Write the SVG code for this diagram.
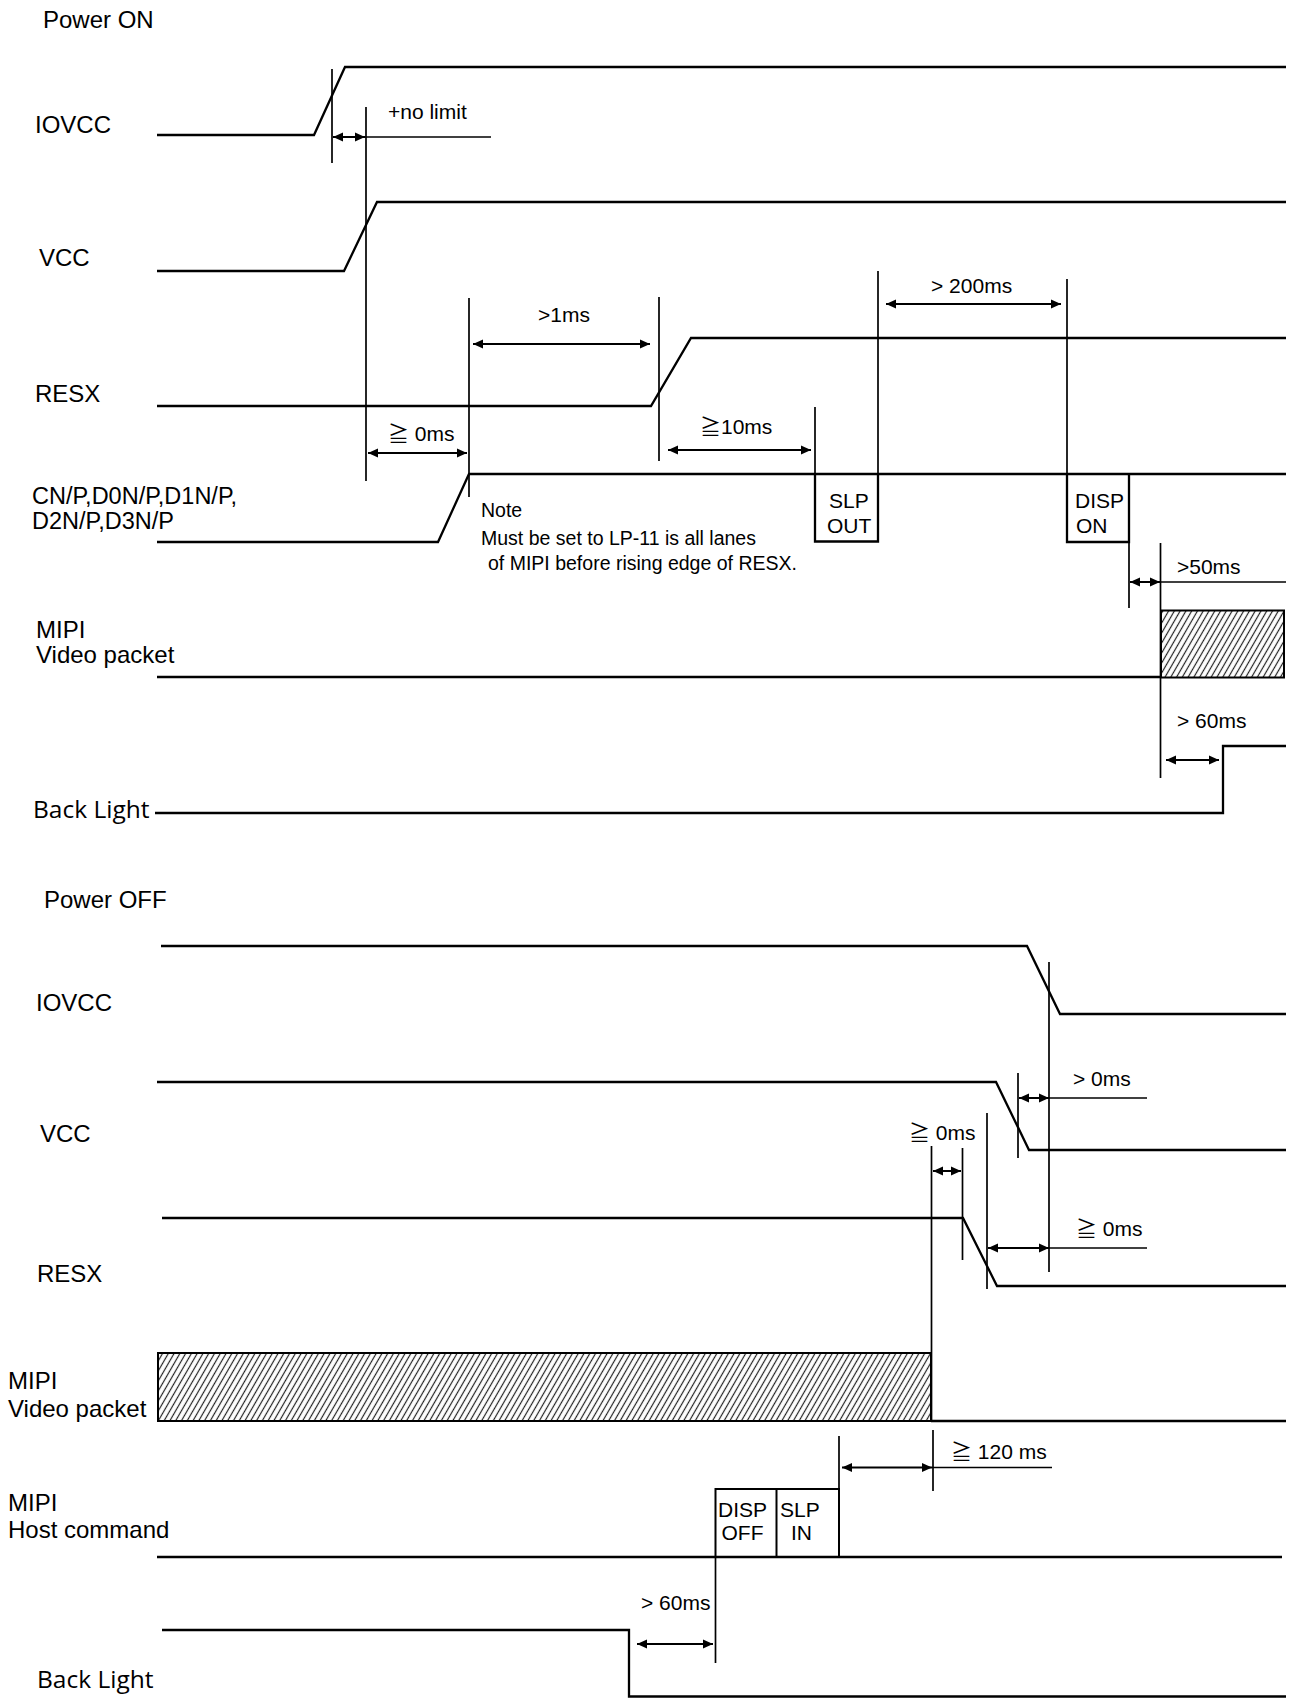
<svg xmlns="http://www.w3.org/2000/svg" width="1292" height="1698" viewBox="0 0 1292 1698">
<style>
.sig{fill:none;stroke:#000;stroke-width:2.3;stroke-linejoin:miter}
.tl{fill:none;stroke:#000;stroke-width:1.7}
.ar{fill:none;stroke:#000;stroke-width:2;marker-start:url(#ah);marker-end:url(#ah)}
.lbl{font-family:"Liberation Sans",Arial,"Noto Sans CJK JP",sans-serif;font-size:24px;fill:#000}
.ann{font-family:"Liberation Sans",Arial,"Noto Sans CJK JP",sans-serif;font-size:21px;fill:#000}
.note{font-family:"Liberation Sans",Arial,"Noto Sans CJK JP",sans-serif;font-size:19.5px;fill:#000}
.bl{font-family:"Open Sans","Noto Sans",sans-serif;font-size:24.5px;fill:#000}
.hatch{fill:url(#hp);stroke:#000;stroke-width:2}
</style>
<defs>
<marker id="ah" viewBox="0 0 10 10" refX="10" refY="5" markerWidth="10" markerHeight="10" markerUnits="userSpaceOnUse" orient="auto-start-reverse">
<path d="M0,0.5 L10,5 L0,9.5 z" fill="#000"/>
</marker>
<pattern id="hp" patternUnits="userSpaceOnUse" width="5" height="5" patternTransform="rotate(30)">
<rect width="5" height="5" fill="#fff"/>
<line x1="2.5" y1="0" x2="2.5" y2="5" stroke="#222" stroke-width="1.2"/>
</pattern>
</defs>
<rect width="1292" height="1698" fill="#fff"/>

<g id="on-title"><text class="lbl" x="43" y="28">Power ON</text></g>

<g id="on-iovcc">
<text class="lbl" x="35" y="133">IOVCC</text>
<polyline class="sig" points="157,135 314,135 345,67 1286,67"/>
</g>
<g id="on-vcc">
<text class="lbl" x="39" y="266">VCC</text>
<polyline class="sig" points="157,271 344,271 377,202 1286,202"/>
</g>
<g id="on-resx">
<text class="lbl" x="35" y="402">RESX</text>
<polyline class="sig" points="157,406 651,406 691,338 1286,338"/>
</g>
<g id="on-lanes">
<text class="lbl" style="font-size:23.5px" x="32" y="504">CN/P,D0N/P,D1N/P,</text>
<text class="lbl" style="font-size:23.5px" x="32" y="529">D2N/P,D3N/P</text>
<polyline class="sig" points="157,542 438,542 469,474 1286,474"/>
<polyline class="sig" points="815,474 815,541.5 878,541.5 878,474"/>
<polyline class="sig" points="1067,474 1067,542 1129,542 1129,474"/>
<text class="lbl" style="font-size:21px" x="829" y="508">SLP</text>
<text class="lbl" style="font-size:21px" x="827" y="533">OUT</text>
<text class="lbl" style="font-size:21px" x="1075" y="508">DISP</text>
<text class="lbl" style="font-size:21px" x="1076" y="533">ON</text>
</g>
<g id="on-note">
<text class="note" x="481" y="517">Note</text>
<text class="note" x="481" y="545">Must be set to LP-11 is all lanes</text>
<text class="note" x="488" y="570">of MIPI before rising edge of RESX.</text>
</g>
<g id="on-mipi">
<text class="lbl" x="36" y="638">MIPI</text>
<text class="lbl" x="36" y="663">Video packet</text>
<line class="sig" x1="157" y1="677" x2="1161" y2="677"/>
<rect class="hatch" x="1161" y="610.5" width="123" height="67"/>
</g>
<g id="on-backlight">
<text class="bl" x="33" y="818">Back Light</text>
<polyline class="sig" points="155,813 1223,813 1223,746 1286,746"/>
</g>

<g id="on-timing">
<line class="tl" x1="332" y1="69" x2="332" y2="163"/>
<line class="tl" x1="366" y1="107" x2="366" y2="481"/>
<line class="ar" x1="333" y1="137" x2="365" y2="137"/>
<line class="tl" x1="365" y1="137" x2="491" y2="137"/>
<text class="ann" x="388" y="119">+no limit</text>

<line class="tl" x1="469" y1="298" x2="469" y2="497"/>
<line class="tl" x1="659" y1="297" x2="659" y2="461"/>
<line class="ar" x1="473" y1="344" x2="650" y2="344"/>
<text class="ann" x="538" y="322">&gt;1ms</text>

<line class="ar" x1="368" y1="453" x2="467" y2="453"/>
<text class="ann" x="388" y="441">≧ 0ms</text>

<line class="tl" x1="815" y1="407" x2="815" y2="474"/>
<line class="ar" x1="668" y1="450" x2="811" y2="450"/>
<text class="ann" x="700" y="434">≧10ms</text>

<line class="tl" x1="878" y1="271" x2="878" y2="474"/>
<line class="tl" x1="1067" y1="279" x2="1067" y2="474"/>
<line class="ar" x1="886" y1="304" x2="1061" y2="304"/>
<text class="ann" x="931" y="293">&gt; 200ms</text>

<line class="tl" x1="1129" y1="542" x2="1129" y2="608"/>
<line class="tl" x1="1160.5" y1="543" x2="1160.5" y2="778"/>
<line class="ar" x1="1130" y1="582" x2="1160" y2="582"/>
<line class="tl" x1="1160" y1="582" x2="1286" y2="582"/>
<text class="ann" x="1177" y="574">&gt;50ms</text>

<line class="ar" x1="1166" y1="760" x2="1219" y2="760"/>
<text class="ann" x="1177" y="728">&gt; 60ms</text>
</g>

<g id="off-title"><text class="lbl" x="44" y="908">Power OFF</text></g>

<g id="off-iovcc">
<text class="lbl" x="36" y="1011">IOVCC</text>
<polyline class="sig" points="161,946 1027,946 1060,1014 1286,1014"/>
</g>
<g id="off-vcc">
<text class="lbl" x="40" y="1142">VCC</text>
<polyline class="sig" points="157,1082 996,1082 1029,1150 1286,1150"/>
</g>
<g id="off-resx">
<text class="lbl" x="37" y="1282">RESX</text>
<polyline class="sig" points="162,1218 963,1218 997,1286 1286,1286"/>
</g>
<g id="off-mipi-video">
<text class="lbl" x="8" y="1389">MIPI</text>
<text class="lbl" x="8" y="1417">Video packet</text>
<rect class="hatch" x="158" y="1353" width="773" height="68"/>
<line class="sig" x1="931" y1="1421" x2="1286" y2="1421"/>
</g>
<g id="off-mipi-host">
<text class="lbl" x="8" y="1511">MIPI</text>
<text class="lbl" x="8" y="1538">Host command</text>
<line class="sig" x1="157" y1="1557" x2="1282" y2="1557"/>
<polyline class="tl" points="715.5,1557 715.5,1489 839,1489 839,1557" style="stroke-width:2"/>
<line class="tl" x1="776.5" y1="1489" x2="776.5" y2="1557" style="stroke-width:2"/>
<text class="lbl" style="font-size:21px" x="718" y="1517">DISP</text>
<text class="lbl" style="font-size:21px" x="721.5" y="1540">OFF</text>
<text class="lbl" style="font-size:21px" x="780" y="1517">SLP</text>
<text class="lbl" style="font-size:21px" x="791" y="1540">IN</text>
</g>
<g id="off-backlight">
<text class="bl" x="37" y="1688">Back Light</text>
<polyline class="sig" points="162,1630 629,1630 629,1696.5 1286,1696.5"/>
</g>

<g id="off-timing">
<line class="tl" x1="1049" y1="962" x2="1049" y2="1272"/>
<line class="tl" x1="1018" y1="1073" x2="1018" y2="1158"/>
<line class="ar" x1="1019" y1="1098" x2="1049" y2="1098"/>
<line class="tl" x1="1049" y1="1098" x2="1147" y2="1098"/>
<text class="ann" x="1073" y="1086">&gt; 0ms</text>

<line class="tl" x1="931.5" y1="1146" x2="931.5" y2="1421"/>
<line class="tl" x1="962.5" y1="1148" x2="962.5" y2="1260"/>
<line class="ar" x1="933" y1="1171" x2="961" y2="1171"/>
<text class="ann" x="909" y="1140">≧ 0ms</text>

<line class="tl" x1="987" y1="1113" x2="987" y2="1289"/>
<line class="ar" x1="988" y1="1248" x2="1049" y2="1248"/>
<line class="tl" x1="1049" y1="1248" x2="1147" y2="1248"/>
<text class="ann" x="1076" y="1236">≧ 0ms</text>

<line class="tl" x1="839" y1="1436" x2="839" y2="1489"/>
<line class="tl" x1="933" y1="1430" x2="933" y2="1491"/>
<line class="ar" x1="842" y1="1467.5" x2="932" y2="1467.5"/>
<line class="tl" x1="932" y1="1467.5" x2="1052" y2="1467.5"/>
<text class="ann" x="951" y="1459">≧ 120 ms</text>

<line class="tl" x1="715.5" y1="1557" x2="715.5" y2="1663"/>
<line class="ar" x1="637" y1="1644" x2="713" y2="1644"/>
<text class="ann" x="641" y="1610">&gt; 60ms</text>
</g>
</svg>
